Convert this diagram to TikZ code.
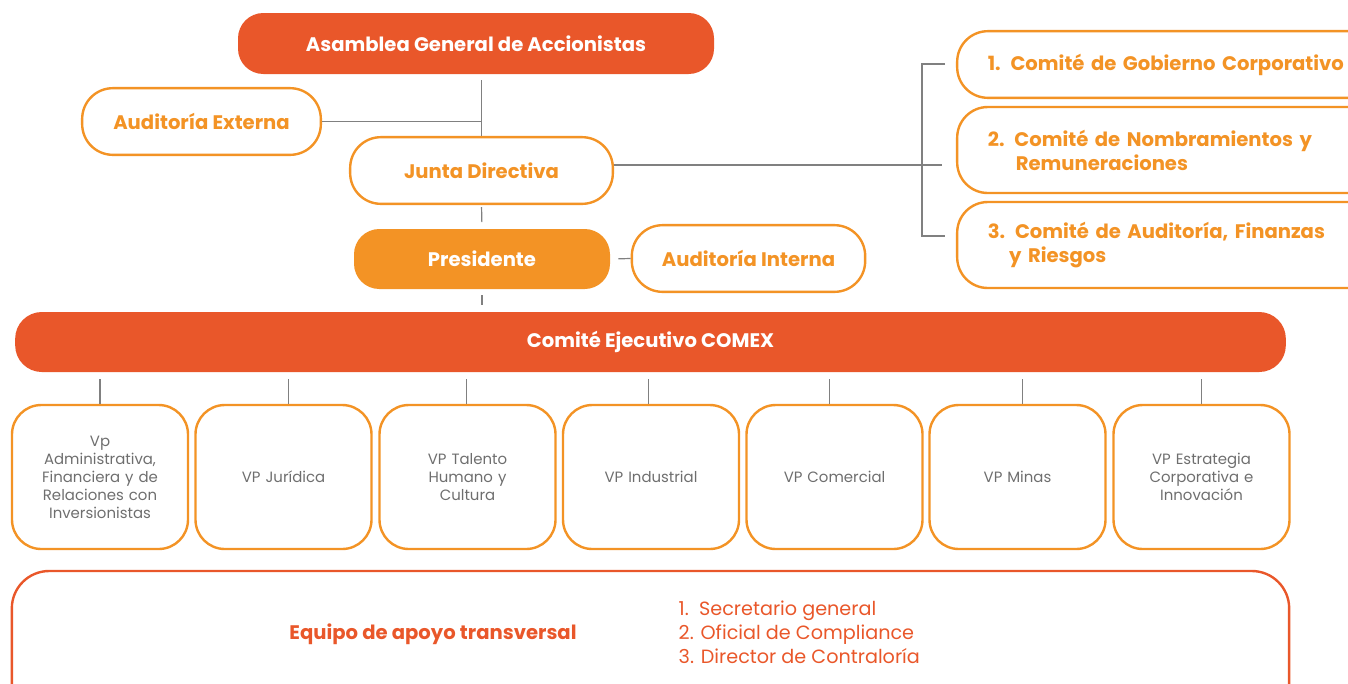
\documentclass[tikz,border=0pt]{standalone}
\usepackage{fontspec}
\setmainfont{Poppins}
\usetikzlibrary{positioning}
\definecolor{brick}{HTML}{E9572A}
\definecolor{amber}{HTML}{F39325}
\definecolor{wire}{HTML}{808080}
\definecolor{slate}{HTML}{6E6E6E}

\begin{document}
\begin{tikzpicture}[x=0.75pt,y=-0.75pt,
  head/.style={font=\fontsize{14.7}{18}\selectfont\bfseries},
  filled/.style={head,rounded corners=19pt,fill=#1,text=white,inner sep=0pt},
  outlined/.style={head,draw=amber,line width=1.8pt,rounded corners=23pt,text=amber,fill=white},
  vpbox/.style={draw=amber,line width=1.8pt,rounded corners=22pt,minimum width=132pt,
    minimum height=108pt,text width=100pt,align=center,text=slate,font=\fontsize{11.2}{13.5}\selectfont},
  link/.style={draw=wire,line width=0.9pt}]
\useasboundingbox (0,0) rectangle (1348,683);
\clip (0,0) rectangle (1348,683);

% governance
\node[filled=brick,minimum width=357pt,minimum height=45.75pt] (asamblea) at (476,43.5) {Asamblea General de Accionistas};
\node[outlined,minimum width=179pt,minimum height=50pt] (audext) at (201.5,121.5) {Auditoría Externa};
\node[outlined,minimum width=197pt,minimum height=50pt] (junta) at (481.5,170.5) {Junta Directiva};
\node[filled=amber,minimum width=192pt,minimum height=45pt] (presidente) at (482,259) {Presidente};
\node[outlined,minimum width=175pt,minimum height=50pt] (audint) at (748.5,258.5) {Auditoría Interna};

% committees
\node[outlined,minimum width=332pt,minimum height=50pt,text width=286pt,align=left,inner xsep=23pt] (gobierno) at (1178.5,64.5) {1. Comité de Gobierno Corporativo};
\node[outlined,minimum width=332pt,minimum height=64.5pt,text width=286pt,align=left,inner xsep=23pt] (nombramientos) at (1178.5,150) {2. Comité de Nombramientos y\\\hspace*{21pt}Remuneraciones};
\node[outlined,minimum width=332pt,minimum height=64.5pt,text width=286pt,align=left,inner xsep=23pt] (auditoria) at (1178.5,245) {3. Comité de Auditoría, Finanzas\\\hspace*{16pt}y Riesgos};

\node[filled=brick,minimum width=953pt,minimum height=45pt,rounded corners=20pt] (comex) at (650.5,342) {Comité Ejecutivo COMEX};

% vice presidencies
\foreach \x/\dx/\name/\txt in {100/0/adm/{Vp\\Administrativa,\\Financiera y de\\Relaciones con\\Inversionistas},
    283.5/4/jur/{VP Jurídica}, 467.5/-1/tal/{VP Talento\\Humano y\\Cultura}, 651/-2/ind/{VP Industrial},
    834.5/-4/com/{VP Comercial}, 1017.5/3.5/min/{VP Minas}, 1201.5/0/est/{VP Estrategia\\Corporativa e\\Innovación}}{
  \node[vpbox] (\name) at (\x,477) {\txt};
  \coordinate (top\name) at ([xshift=\dx pt]\name.north);
  \draw[link,shorten >=5pt] (top\name) -- (top\name |- comex.south);
}

% support team
\node[draw=brick,line width=1.8pt,rounded corners=28pt,minimum width=958pt,minimum height=112.5pt] (equipo) at (650.5,646) {};
\node[head,text=brick] (titulo) at (433,634) {Equipo de apoyo transversal};
\node[text=brick,font=\fontsize{14.4}{18}\selectfont,align=left,anchor=west] (lista) at (674,632) {1.~~Secretario general\\2. Oficial de Compliance\\3. Director de Contraloría};

% connectors
\coordinate (brk) at (942,165);
\coordinate (brktop) at (945,64);
\coordinate (brkbot) at (945,236);
\draw[link,shorten <=4.5pt] (asamblea.south -| junta.north) -- (junta.north);
\draw[link] (audext.east) -- (audext.east -| junta.north);
\draw[link,shorten <=1.5pt,shorten >=5pt] (junta.south) -- (presidente.north);
\draw[link,shorten <=6pt] (presidente.east) -- (audint.west);
\draw[link,shorten <=4.5pt,shorten >=5pt] (presidente.south) -- (presidente.south |- comex.north);
\draw[link] (junta.east |- brk) -- (brk);
\draw[link] (brktop) -- ++(-23,0) |- (brkbot);
\end{tikzpicture}
\end{document}
